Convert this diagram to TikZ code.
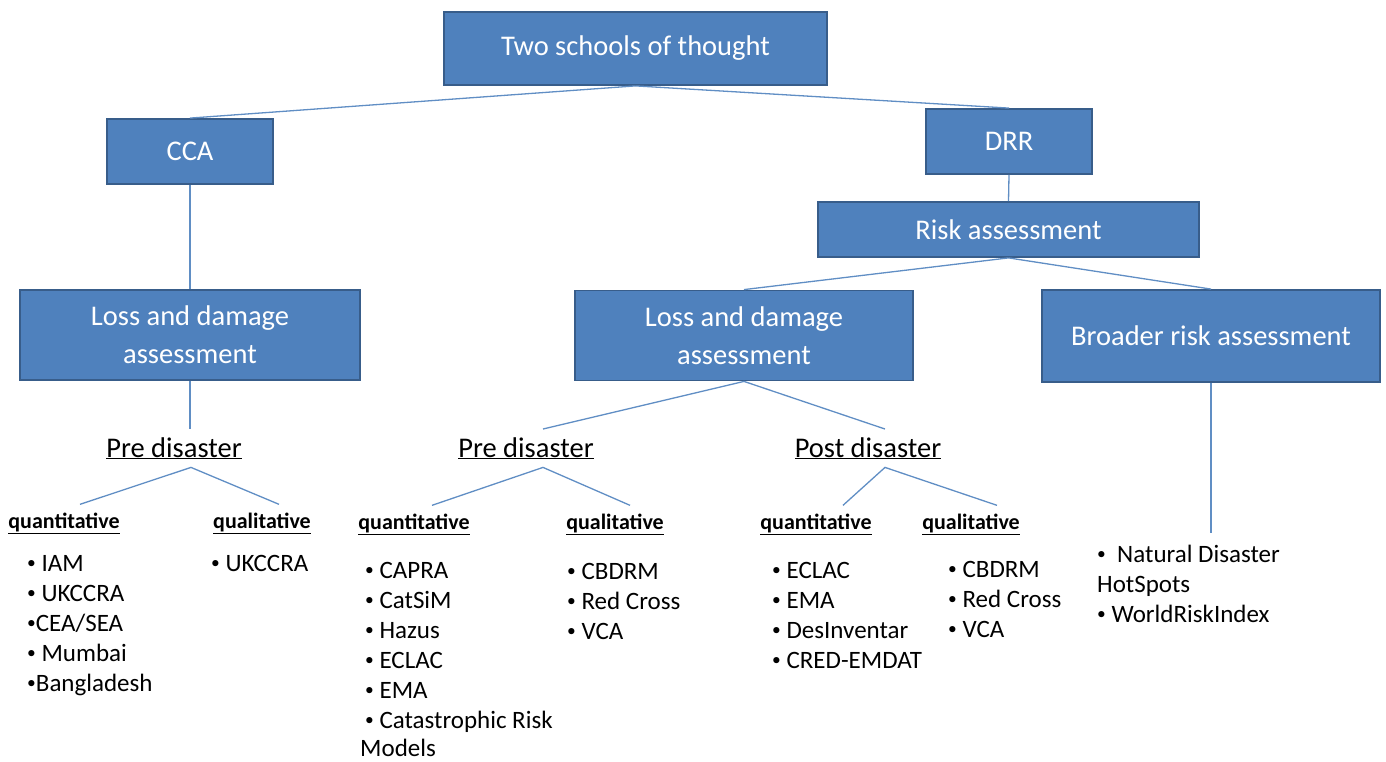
\documentclass[tikz,border=0pt]{standalone}
\usepackage{fontspec}
\setmainfont{Carlito}
\definecolor{boxfill}{RGB}{79,129,189}
\definecolor{boxline}{RGB}{56,93,138}
\definecolor{linkblue}{RGB}{96,142,196}
\newcommand{\smbul}{\raisebox{0.12em}{\scalebox{0.7}{\textbullet}}}
\tikzset{
  blbox/.style={draw=boxline, line width=1.8pt, fill=boxfill, text=white,
    align=center, inner sep=0pt, font=\fontsize{28.5}{38}\selectfont},
  phase/.style={anchor=base, inner sep=8pt, font=\fontsize{28.5}{34}\selectfont},
  kind/.style={anchor=base, inner sep=8pt, font=\bfseries\fontsize{22}{26}\selectfont},
  item/.style={anchor=base west, inner sep=0pt, font=\fontsize{25}{30}\selectfont},
  link/.style={draw=linkblue, line width=1.3pt}
}
\begin{document}
\begin{tikzpicture}[x=1pt,y=-1pt]
\useasboundingbox (0,0) rectangle (1386,762);

        % boxes
        \node[blbox, minimum width=383, minimum height=73] (TS) at (635.5,48.5) {Two schools of thought};
        \node[blbox, minimum width=166, minimum height=65] (CCA) at (190,151.5) {CCA};
        \node[blbox, minimum width=166, minimum height=65] (DRR) at (1009,141.5) {DRR};
        \node[blbox, minimum width=381, minimum height=55] (RA) at (1008.5,229.5) {Risk assessment};
        \node[blbox, minimum width=340, minimum height=90] (LDL) at (190,335) {Loss and damage\\assessment};
        \node[blbox, minimum width=338, minimum height=90] (LDM) at (744,335.5) {Loss and damage\\assessment};
        \node[blbox, minimum width=338, minimum height=92] (BRA) at (1211,336) {Broader risk assessment};

        % phases and kinds
        \node[phase] (PDL) at (174,457) {\underline{Pre disaster}};
        \node[phase] (PDM) at (526,457) {\underline{Pre disaster}};
        \node[phase] (PDP) at (868,457) {\underline{Post disaster}};

        \node[kind] (QNL) at (64,528) {\underline{quantitative}};
        \node[kind] (QLL) at (262,528) {\underline{qualitative}};
        \node[kind] (QNM) at (414,529) {\underline{quantitative}};
        \node[kind] (QLM) at (615,529) {\underline{qualitative}};
        \node[kind] (QNP) at (816,529) {\underline{quantitative}};
        \node[kind] (QLP) at (971,529) {\underline{qualitative}};

        % lists
        \foreach \t [count=\i from 0] in {{\smbul\ IAM},{\smbul\ UKCCRA},{\smbul CEA/SEA},{\smbul\ Mumbai},{\smbul Bangladesh}}
          \node[item] (iql\i) at (27,571+30*\i) {\t};
        \node[item] (ill0) at (211,571) {\smbul\ UKCCRA};

        \foreach \t [count=\i from 0] in {CAPRA,CatSiM,Hazus,ECLAC,EMA,Catastrophic Risk}
          \node[item] (iqm\i) at (365,578+30*\i) {\smbul\ \t};
        \node[item] (iqm6) at (360,756) {Models};
        \foreach \t [count=\i from 0] in {CBDRM,Red Cross,VCA}
          \node[item] (ilm\i) at (567,579+30*\i) {\smbul\ \t};

        \foreach \t [count=\i from 0] in {ECLAC,EMA,DesInventar,CRED-EMDAT}
          \node[item] (iqp\i) at (772,578+30*\i) {\smbul\ \t};
        \foreach \t [count=\i from 0] in {CBDRM,Red Cross,VCA}
          \node[item] (ilp\i) at (948,577+30*\i) {\smbul\ \t};

        \node[item] (ibr0) at (1097,562) {\smbul\ \ Natural Disaster};
        \node[item] (ibr1) at (1097,592) {HotSpots};
        \node[item] (ibr2) at (1097,622) {\smbul\ WorldRiskIndex};

        % connectors
        \draw[link] (TS.south) -- (CCA.north);
        \draw[link] (TS.south) -- (DRR.north);
        \draw[link] (DRR.south) -- (RA.north);
        \draw[link] (RA.south) -- (LDM.north);
        \draw[link] (RA.south) -- (BRA.north);
        \draw[link] (CCA.south) -- (LDL.north);

        \draw[link] (LDL.south) -- (LDL.south |- PDL.north);
        \draw[link] ([xshift=16]QNL.north) -- ([xshift=17]PDL.south) -- ([xshift=17]QLL.north);

        \draw[link] (LDM.south) -- ([xshift=17]PDM.north);
        \draw[link] (LDM.south) -- ([xshift=17]PDP.north);
        \draw[link] ([xshift=18]QNM.north) -- ([xshift=17]PDM.south) -- ([xshift=15]QLM.north);
        \draw[link] ([xshift=27]QNP.north) -- ([xshift=17]PDP.south) -- ([xshift=26]QLP.north);

        \draw[link] (BRA.south) -- ([xshift=114]ibr0.north west |- 0,533);

\end{tikzpicture}
\end{document}
